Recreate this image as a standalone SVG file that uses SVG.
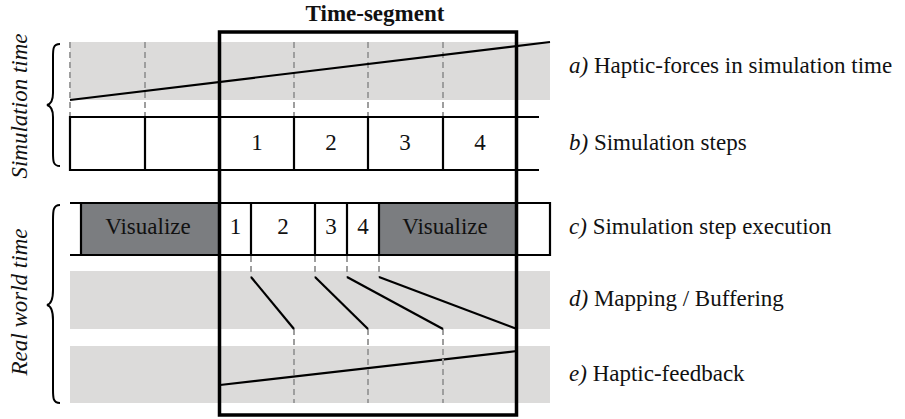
<svg xmlns="http://www.w3.org/2000/svg" width="905" height="419" viewBox="0 0 905 419">
<style>
text{font-family:"Liberation Serif","Times New Roman",serif;font-size:23px;fill:#111}
.it{font-style:italic}
.c{text-anchor:middle}
.band{fill:#dcdbda}
.dark{fill:#7b7d80}
.ln{stroke:#000;stroke-width:2.2;fill:none}
.dash{stroke:#9e9e9e;stroke-width:2;stroke-dasharray:6 4;fill:none}
.brace{stroke:#000;stroke-width:2;fill:none}
</style>
<rect width="905" height="419" fill="#fff"/>

<g id="row-a">
<rect class="band" x="70" y="42" width="480" height="58"/>
<path class="dash" d="M70 42V117M145 42V117M294 42V117M368 42V117M443 42V117"/>
<line class="ln" x1="70" y1="100" x2="550" y2="42"/>
</g>

<g id="row-b">
<path class="ln" d="M539 117H70V170H539M145 117V170M294 117V170M368 117V170M443 117V170"/>
<text class="c" x="257" y="150">1</text>
<text class="c" x="331" y="150">2</text>
<text class="c" x="405" y="150">3</text>
<text class="c" x="480" y="150">4</text>
</g>

<g id="row-c">
<rect class="dark" x="81" y="203" width="138" height="52"/>
<rect class="dark" x="379" y="203" width="138" height="52"/>
<path class="ln" d="M70 203H550V255H70M81 203V255M251 203V255M315 203V255M347 203V255M379 203V255"/>
<text class="c" x="148" y="234">Visualize</text>
<text class="c" x="235.5" y="234">1</text>
<text class="c" x="283" y="234">2</text>
<text class="c" x="331" y="234">3</text>
<text class="c" x="363" y="234">4</text>
<text class="c" x="445" y="234">Visualize</text>
</g>

<g id="row-d">
<rect class="band" x="70" y="271" width="480" height="58"/>
</g>

<g id="row-e">
<rect class="band" x="70" y="346" width="480" height="57"/>
<line class="ln" x1="220" y1="385" x2="517" y2="351"/>
</g>

<g id="connectors">
<path class="dash" d="M251 256V277M315 256V277M347 256V277M379 256V277"/>
<path class="dash" d="M294 329V403M368 329V403M443 329V403"/>
<line class="ln" x1="251" y1="277" x2="294" y2="329"/>
<line class="ln" x1="315" y1="277" x2="368" y2="329" stroke-width="1.6"/>
<line class="ln" x1="347" y1="277" x2="443" y2="329"/>
<line class="ln" x1="379" y1="277" x2="517" y2="329"/>
</g>

<g id="time-segment">
<rect x="219.5" y="32" width="297" height="383" fill="none" stroke="#000" stroke-width="3.5"/>
<text class="c" x="375" y="21" font-weight="bold">Time-segment</text>
</g>

<g id="simulation-time">
<path class="brace" d="M60 44C53 44 53 49 53 57L53 93C53 101 51 104 47 105C51 106 53 109 53 117L53 153C53 161 53 166 60 166"/>
<text class="it c" transform="translate(27 106) rotate(-90)">Simulation time</text>
</g>

<g id="real-world-time">
<path class="brace" d="M60 205C53 205 53 211 53 220L53 290C53 300 51 304 47 305C51 306 53 310 53 320L53 389C53 398 53 403 60 403"/>
<text class="it c" transform="translate(27 302) rotate(-90)">Real world time</text>
</g>

<g id="labels">
<text x="569" y="73"><tspan class="it">a)</tspan> Haptic-forces in simulation time</text>
<text x="569" y="150"><tspan class="it">b)</tspan> Simulation steps</text>
<text x="569" y="234"><tspan class="it">c)</tspan> Simulation step execution</text>
<text x="569" y="306"><tspan class="it">d)</tspan> Mapping / Buffering</text>
<text x="569" y="381"><tspan class="it">e)</tspan> Haptic-feedback</text>
</g>
</svg>
